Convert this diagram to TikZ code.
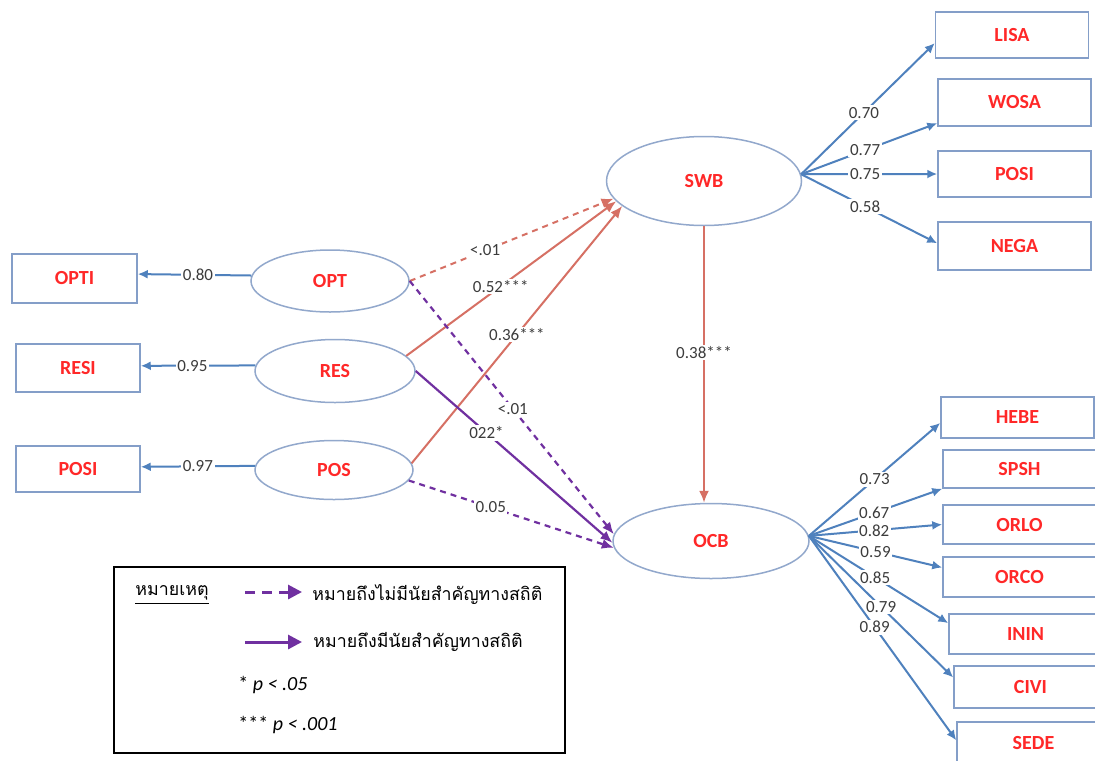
\documentclass[tikz,border=0pt]{standalone}
\usepackage{fontspec}
\setmainfont{Carlito}
\newfontfamily\thaifont[Script=Thai]{Loma}
\usetikzlibrary{shapes.geometric,arrows.meta,positioning}

\definecolor{boxblue}{RGB}{132,158,200}
\definecolor{ellblue}{RGB}{146,168,204}
\definecolor{lineblue}{RGB}{79,129,189}
\definecolor{pathred}{RGB}{214,112,100}
\definecolor{sigpurple}{RGB}{112,48,160}
\definecolor{labelred}{RGB}{255,40,40}
\definecolor{numgray}{RGB}{60,60,60}

\begin{document}
\begin{tikzpicture}[
      x=0.5pt, y=-0.5pt,
      every text node part/.style={align=center},
      indicator/.style={
        rectangle,
        draw=boxblue,
        line width=0.75pt,
        minimum width=76.5pt,
        inner sep=0pt,
        text=labelred,
        font=\fontsize{10}{12}\selectfont\bfseries
      },
      latent/.style={
        ellipse,
        draw=ellblue,
        line width=0.75pt,
        inner sep=0pt,
        text=labelred,
        font=\fontsize{10}{12}\selectfont\bfseries
      },
      loading/.style={draw=lineblue, line width=1pt, -{Latex[length=5pt,width=4.5pt]}},
      coef/.style={fill=white, inner sep=0.8pt, text=numgray, font=\fontsize{8.5}{10}\selectfont},
      swbpath/.style={draw=pathred, line width=1pt, -{Latex[length=6pt,width=5pt]}},
      swbdashed/.style={swbpath, dash pattern=on 3pt off 2.5pt},
      ocbpath/.style={draw=sigpurple, line width=1.1pt, -{Latex[length=6pt,width=5pt]}},
      ocbdashed/.style={ocbpath, dash pattern=on 3pt off 2.5pt},
      legendtext/.style={anchor=west, inner sep=0pt, font=\fontsize{8.9}{11}\thaifont}
    ]
    \useasboundingbox (0,0) rectangle (1095,760);
    \clip (0,0) rectangle (1095,760);
    \fill[white] (0,0) rectangle (1095,760);

    % latent variables
    \node[latent, minimum width=79pt, minimum height=31pt] (OPT) at (330,281) {OPT};
    \node[latent, minimum width=80pt, minimum height=31.5pt] (RES) at (335,371) {RES};
    \node[latent, minimum width=79pt, minimum height=29.5pt] (POS) at (334,470) {POS};
    \node[latent, minimum width=97.5pt, minimum height=44.5pt] (SWB) at (704,181) {SWB};
    \node[latent, minimum width=98pt, minimum height=37.5pt] (OCB) at (711,541) {OCB};

    % indicators, left
    \node[indicator, minimum width=62.5pt, minimum height=24.5pt] (OPTI) at (74.5,278.5) {OPTI};
    \node[indicator, minimum width=62pt, minimum height=24pt] (RESI) at (78,368) {RESI};
    \node[indicator, minimum width=62pt, minimum height=23pt] (POSI) at (78,469) {POSI};

    % indicators, SWB
    \node[indicator, minimum height=23pt] (LISA) at (1012,35) {LISA};
    \node[indicator, minimum height=23.5pt] (WOSA) at (1014.5,102.5) {WOSA};
    \node[indicator, minimum height=23pt] (POSII) at (1014.5,174) {POSI};
    \node[indicator, minimum height=24pt] (NEGA) at (1014.5,246) {NEGA};

    % indicators, OCB
    \node[indicator, minimum height=20.5pt] (HEBE) at (1017.5,417.5) {HEBE};
    \node[indicator, minimum height=19pt] (SPSH) at (1019.5,469) {SPSH};
    \node[indicator, minimum height=19.5pt] (ORLO) at (1019.5,524.5) {ORLO};
    \node[indicator, minimum height=20pt] (ORCO) at (1019.5,577) {ORCO};
    \node[indicator, minimum height=20pt] (ININ) at (1025.5,634) {ININ};
    \node[indicator, minimum height=21pt] (CIVI) at (1030.5,687) {CIVI};
    \node[indicator, minimum height=21pt] (SEDE) at (1033.5,743) {SEDE};

    % measurement paths
    \draw[loading] (OPT.176) -- node[coef, pos=0.47] {0.80} (OPTI.4);
    \draw[loading] (RES.176) -- node[coef, pos=0.55] {0.95} (RESI.2);
    \draw[loading] (POS.177) -- node[coef, pos=0.5] {0.97} (POSI.2);

    \draw[loading] (SWB.4) -- node[coef, pos=0.47] {0.70} (LISA.186);
    \draw[loading] (SWB.4) -- node[coef, pos=0.47] {0.77} (WOSA.195);
    \draw[loading] (SWB.4) -- node[coef, pos=0.47] {0.75} (POSII.west);
    \draw[loading] (SWB.4) -- node[coef, pos=0.47] {0.58} (NEGA.178);

    \draw[loading] (OCB.3) -- node[coef, pos=0.5] {0.73} (HEBE.184);
    \draw[loading] (OCB.3) -- node[coef, pos=0.49] {0.67} (SPSH.south west);
    \draw[loading] (OCB.3) -- node[coef, pos=0.49] {0.82} (ORLO.west);
    \draw[loading] (OCB.3) -- node[coef, pos=0.5] {0.59} (ORCO.173);
    \draw[loading] (OCB.3) -- node[coef, pos=0.475] {0.85} (ININ.172);
    \draw[loading] (OCB.3) -- node[coef, pos=0.5] {0.79} (CIVI.173);
    \draw[loading] (OCB.3) -- node[coef, pos=0.446] {0.89} (SEDE.178);

    % structural paths
    \draw[swbdashed] (OPT.east) -- node[coef, pos=0.37] {<.01} (SWB.191);
    \draw[swbpath] (RES.12) -- node[coef, pos=0.45] {0.52***} (SWB.193);
    \draw[swbpath] (POS.5) -- node[coef, pos=0.5] {0.36***} (SWB.197);
    \draw[swbpath] (SWB.south) -- node[coef, pos=0.457] {0.38***} (SWB.south |- OCB.north);

    \draw[ocbdashed] (OPT.east) -- node[coef, pos=0.505] {<.01} (OCB.176);
    \draw[ocbpath] (RES.east) -- node[coef, pos=0.36] {022*} (OCB.181);
    \draw[ocbdashed] (POS.352) -- node[coef, pos=0.4] {0.05} (OCB.184);

    % legend
    \node[draw=black, line width=1pt, minimum width=225.5pt, minimum height=93pt] (legend) at (339.5,660) {};
    \node[legendtext] (noteword) at (135,595) {\underline{หมายเหตุ}};
    \coordinate (dashA) at (245,592);
    \coordinate (dashB) at (302,592);
    \coordinate (solidA) at (245,642);
    \coordinate (solidB) at (302,642);
    \draw[draw=sigpurple, line width=1.5pt, dash pattern=on 5pt off 3.5pt,
          -{Triangle[length=7pt,width=7pt]}] (dashA) -- (dashB);
    \draw[draw=sigpurple, line width=1.5pt, -{Triangle[length=7pt,width=7pt]}] (solidA) -- (solidB);
    \node[legendtext] (nstext) at (312,595) {หมายถึงไม่มีนัยสำคัญทางสถิติ};
    \node[legendtext] (sigtext) at (313,642) {หมายถึงมีนัยสำคัญทางสถิติ};
    \node[legendtext, font=\fontsize{10}{12}\selectfont] (pone) at (238,685) {* \itshape p < .05};
    \node[legendtext, font=\fontsize{10}{12}\selectfont] (pthree) at (238,725) {*** \itshape p < .001};
  \end{tikzpicture}
\end{document}
